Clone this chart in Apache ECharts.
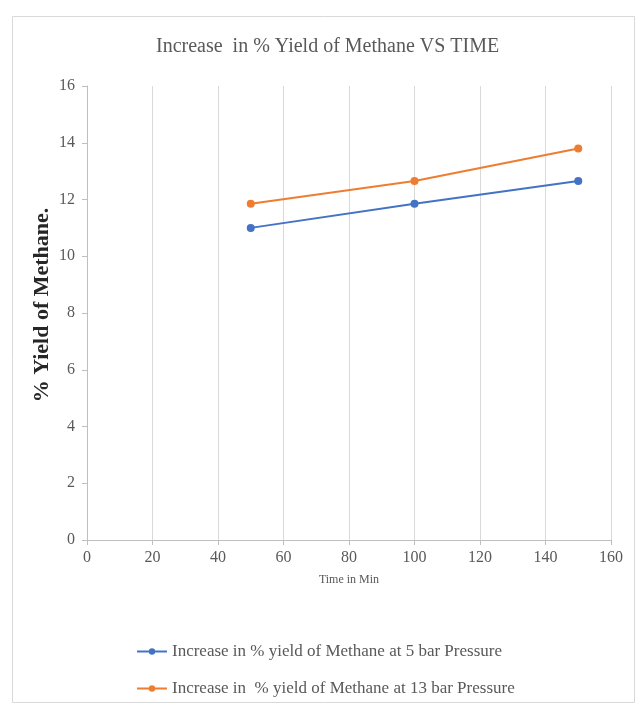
<!DOCTYPE html>
<html>
<head>
<meta charset="utf-8">
<style>
  html, body { margin: 0; padding: 0; background: #fff; }
  #chart { width: 635px; height: 711px; }
</style>
<script src="https://cdn.jsdelivr.net/npm/echarts@6/dist/echarts.min.js"></script>
</head>
<body>
<div id="chart"></div>
<script>
// Reaction time (minutes) and methane yield (%) at two pressures
var timeMin = [50, 100, 150];
var yield5bar = [11.0, 11.85, 12.65];
var yield13bar = [11.85, 12.65, 13.8];
var seriesNames = [
  'Increase in % yield of Methane at 5 bar Pressure',
  'Increase in  % yield of Methane at 13 bar Pressure'
];
var titleText = 'Increase  in % Yield of Methane VS TIME';
var xAxisName = 'Time in Min';
var yAxisName = '% Yield of Methane.';

var serif = '"Liberation Serif", "DejaVu Serif", serif';
var grey = '#595959';

function pairs(xs, ys) {
  return xs.map(function (x, i) { return [x, ys[i]]; });
}

var chart = echarts.init(document.getElementById('chart'), null, { renderer: 'canvas' });
chart.setOption({
  backgroundColor: '#fff',
  animation: false,
  graphic: [{
    type: 'rect',
    left: 10, top: 14,
    shape: { width: 622, height: 686 },
    style: { fill: 'none', stroke: '#d9d9d9', lineWidth: 1 },
    silent: true
  }],
  title: {
    text: titleText,
    left: 151,
    top: 32,
    textStyle: { fontFamily: serif, fontSize: 20, fontWeight: 'normal', color: grey }
  },
  grid: { left: 87, right: 24, top: 86, bottom: 171, containLabel: false },
  xAxis: {
    type: 'value',
    min: 0, max: 160, interval: 20,
    name: xAxisName,
    nameLocation: 'middle',
    nameGap: 34,
    nameMoveOverlap: false,
    nameTextStyle: { fontFamily: serif, fontSize: 12, color: grey },
    axisLine: { show: true, lineStyle: { color: '#bfbfbf', width: 1 } },
    axisTick: { show: true, length: 5, lineStyle: { color: '#bfbfbf' } },
    axisLabel: { fontFamily: serif, fontSize: 16, color: grey, margin: 10 },
    splitLine: { show: true, lineStyle: { color: '#d9d9d9', width: 1 } }
  },
  yAxis: {
    type: 'value',
    min: 0, max: 16, interval: 2,
    name: yAxisName,
    nameLocation: 'middle',
    nameGap: 34,
    nameRotate: 90,
    nameMoveOverlap: false,
    nameTextStyle: { fontFamily: serif, fontSize: 22, fontWeight: 'bold', color: '#262626', padding: [0, 0, 0, 16] },
    axisLine: { show: true, lineStyle: { color: '#bfbfbf', width: 1 } },
    axisTick: { show: true, length: 5, lineStyle: { color: '#bfbfbf' } },
    axisLabel: { fontFamily: serif, fontSize: 16, color: grey, margin: 12 },
    splitLine: { show: false }
  },
  legend: {
    orient: 'vertical',
    left: 131,
    top: 638,
    itemGap: 20,
    itemWidth: 30,
    itemHeight: 8,
    textStyle: { fontFamily: serif, fontSize: 17, color: grey },
    data: seriesNames
  },
  series: [
    {
      name: seriesNames[0],
      type: 'line',
      data: pairs(timeMin, yield5bar),
      symbol: 'circle',
      symbolSize: 8,
      lineStyle: { color: '#4472C4', width: 2 },
      itemStyle: { color: '#4472C4' }
    },
    {
      name: seriesNames[1],
      type: 'line',
      data: pairs(timeMin, yield13bar),
      symbol: 'circle',
      symbolSize: 8,
      lineStyle: { color: '#ED7D31', width: 2 },
      itemStyle: { color: '#ED7D31' }
    }
  ]
});
</script>
</body>
</html>
